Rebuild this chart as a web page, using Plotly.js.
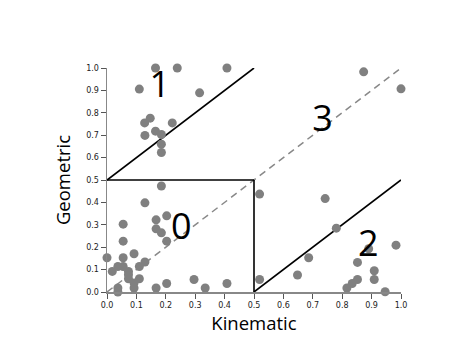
<!DOCTYPE html>
<html><head><meta charset="utf-8">
<script src="https://cdn.plot.ly/plotly-3.0.1.min.js"></script>
<style>html,body{margin:0;padding:0;background:#fff}</style>
</head><body><div id="chart" style="width:465px;height:342px"></div>
<script>
const kinematic = [0.165,0.239,0.408,0.110,0.315,0.147,0.128,0.222,0.165,0.129,0.185,0.185,0.185,
  0.185,0.129,0.519,0.167,0.203,0.055,0.167,0.185,0.203,0.055,0.0,0.055,0.092,0.129,0.018,0.037,0.055,0.073,0.073,0.110,0.073,0.092,0.092,0.110,0.037,0.037,0.167,0.203,0.296,0.334,0.408,0.519,
  0.742,0.780,0.686,0.890,0.983,0.852,0.648,0.909,0.909,0.852,0.834,0.816,0.946,0.873,1.0];
const geometric = [1.0,1.0,1.0,0.906,0.889,0.776,0.755,0.755,0.718,0.699,0.703,0.660,0.623,
  0.473,0.398,0.437,0.322,0.340,0.303,0.282,0.264,0.227,0.227,0.153,0.153,0.171,0.134,0.092,0.114,0.114,0.092,0.077,0.114,0.059,0.040,0.018,0.059,0.018,0.0,0.018,0.038,0.056,0.018,0.038,0.056,
  0.417,0.285,0.153,0.193,0.209,0.132,0.076,0.095,0.056,0.056,0.038,0.018,0.001,0.983,0.907];
const boundaryX = [[0,0.5],[0,0.5],[0.5,0.5],[0.5,1.0]];
const boundaryY = [[0.5,1.0],[0.5,0.5],[0.5,0],[0,0.5]];
const diagX = [0,1];
const diagY = [0,1];
const regionLabels = ["1","0","3","2"];
const regionX = [0.18,0.253,0.733,0.889];
const regionY = [0.91,0.277,0.76,0.2];

const traces = [];
traces.push({x:diagX,y:diagY,mode:'lines',line:{color:'#888',width:1.5,dash:'7px,5px'},cliponaxis:false,hoverinfo:'skip'});
for(let i=0;i<boundaryX.length;i++){
  traces.push({x:boundaryX[i],y:boundaryY[i],mode:'lines',line:{color:'#000',width:1.6},cliponaxis:false,hoverinfo:'skip'});
}
traces.push({x:kinematic,y:geometric,mode:'markers',marker:{color:'#808080',size:9},cliponaxis:false});
traces.push({x:regionX,y:regionY,mode:'text',text:regionLabels,textfont:{family:'Open Sans, sans-serif',size:36,color:'#000'},cliponaxis:false});

const axisCommon = {range:[0,1],dtick:0.1,tick0:0,tickformat:'.1f',showgrid:false,zeroline:false,
  showline:true,linecolor:'#888',linewidth:1.5,ticks:'outside',ticklen:5,tickcolor:'#555',tickwidth:1,
  tickfont:{family:'DejaVu Sans, sans-serif',size:8,color:'#222'}};
const layout = {
  width:465,height:342,showlegend:false,
  margin:{l:106.7,r:64.3,t:67.7,b:49.7},
  paper_bgcolor:'#fff',plot_bgcolor:'#fff',
  xaxis:Object.assign({},axisCommon,{title:{text:'Kinematic',font:{family:'Open Sans, sans-serif',size:18.5,color:'#000'},standoff:0}}),
  yaxis:Object.assign({},axisCommon,{title:{text:'Geometric',font:{family:'Open Sans, sans-serif',size:18.5,color:'#000'},standoff:10}})
};
Plotly.newPlot('chart',traces,layout,{staticPlot:true});
</script></body></html>
